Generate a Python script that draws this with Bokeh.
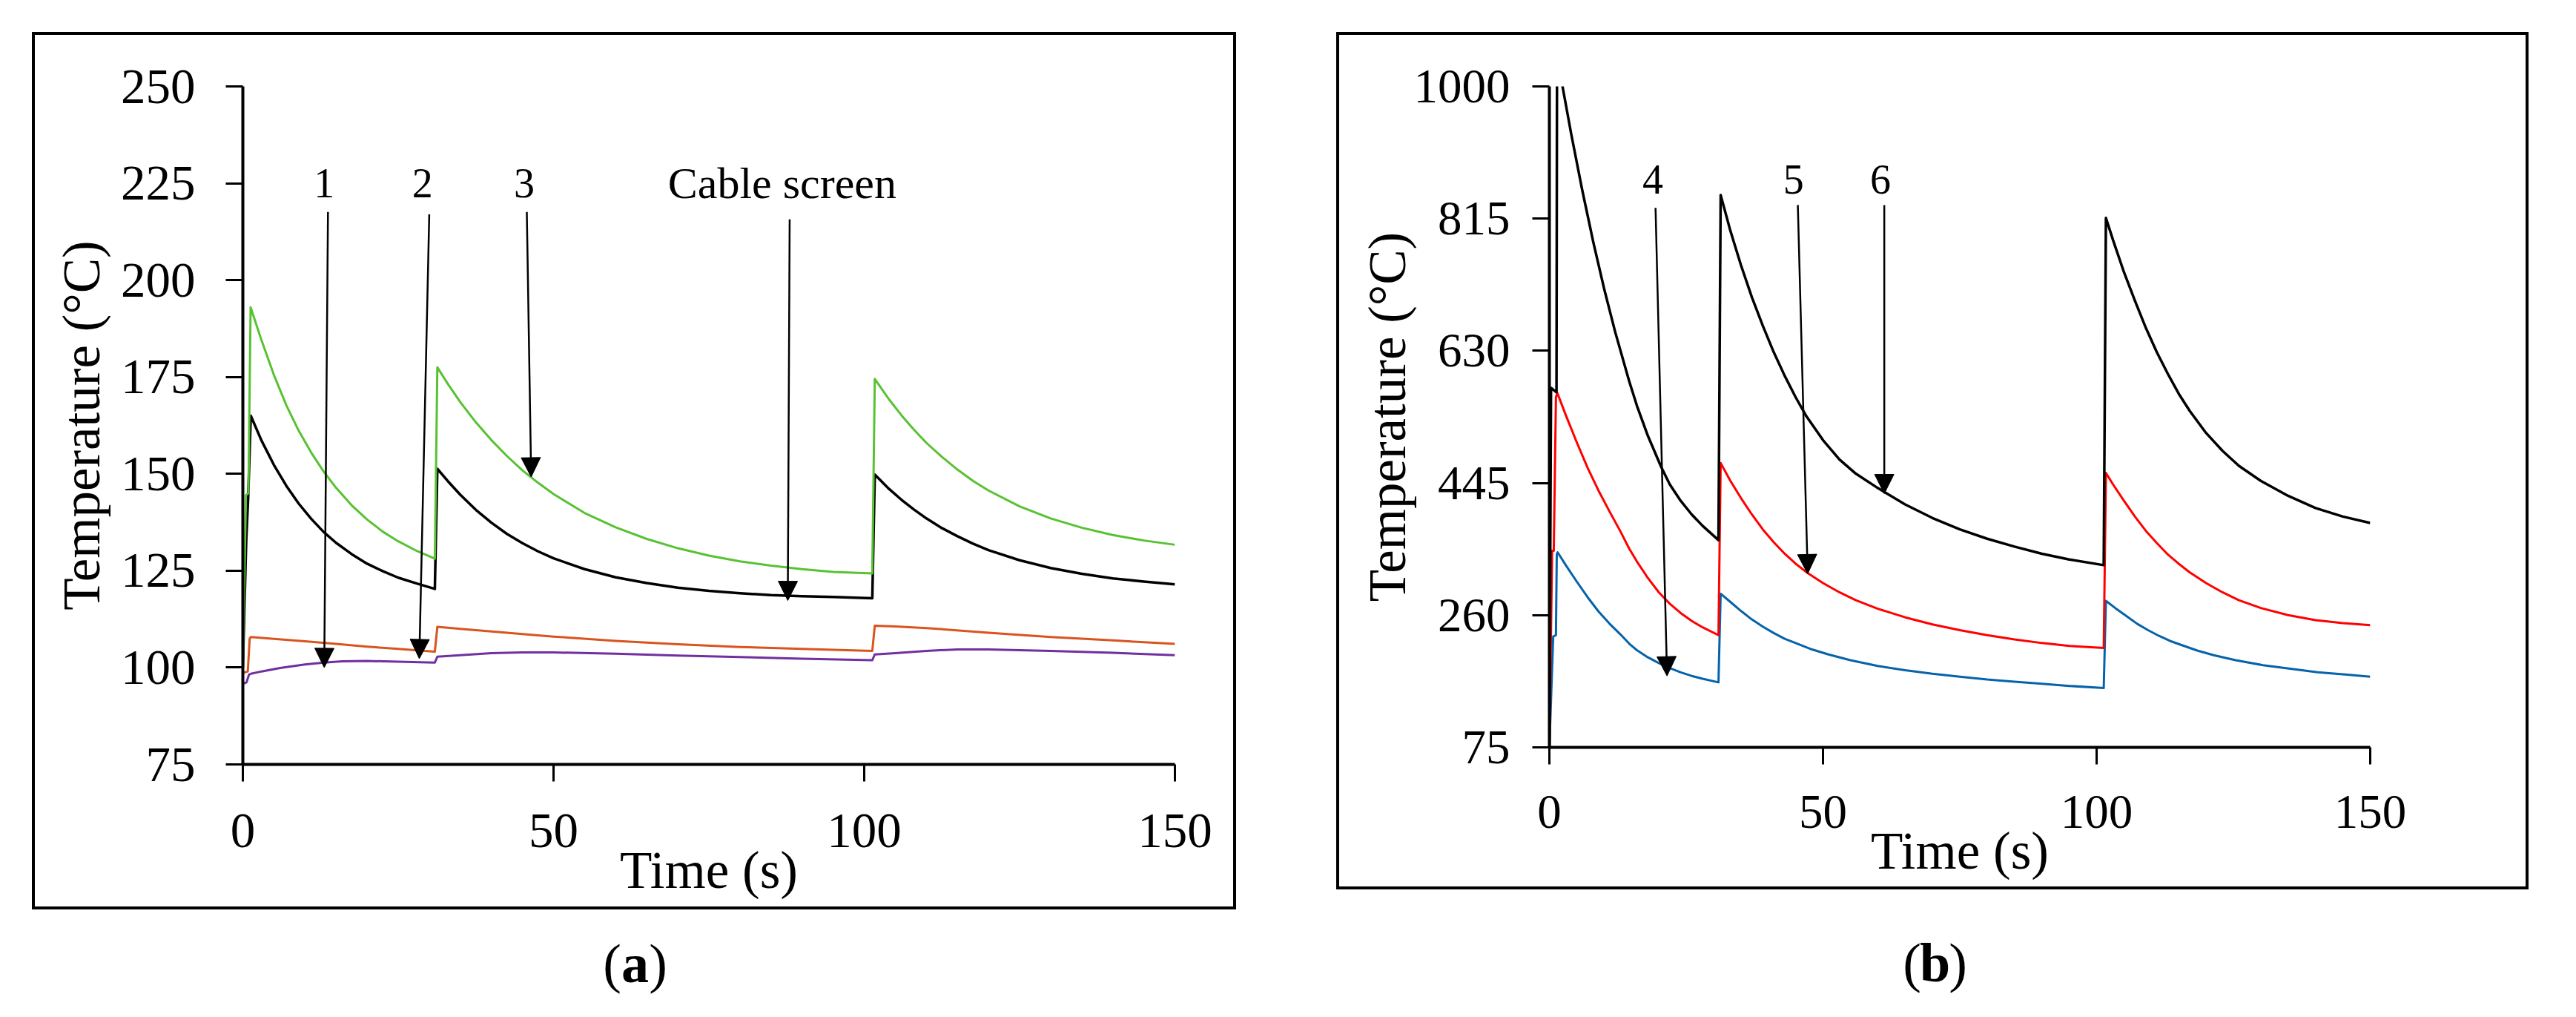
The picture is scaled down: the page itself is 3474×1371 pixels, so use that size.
from bokeh.plotting import figure
from bokeh.models import Range1d, FixedTicker, Arrow, NormalHead
from bokeh.layouts import row, column
from bokeh.embed import file_html
from bokeh.resources import INLINE
from bokeh.core.properties import value

FONT = "Liberation Serif"

# ---------------- panel (a) data ----------------
a_x_ticks = [0, 50, 100, 150]
a_y_ticks = [75, 100, 125, 150, 175, 200, 225, 250]

a_green_t = [0, 0.5, 0.9, 1.25, 3, 5, 7, 9, 11, 13, 15, 17.5, 20, 22.5, 25, 28, 30.9,
             31.3, 33, 35, 37.5, 40, 42.5, 45, 47.5, 50, 55, 60, 65, 70, 75, 80, 85, 90, 95, 101.3,
             101.7, 104, 106, 108, 110, 112.5, 115, 117.5, 120, 125, 130, 135, 140, 145, 150]
a_green_T = [100, 144.5, 145, 193, 184.5, 175.5, 167.7, 161.1, 155.5, 150.6, 146.4, 141.9, 138.2, 135.1, 132.6, 130.1, 128.1,
             177.5, 173.2, 168.5, 163.3, 158.7, 154.6, 150.9, 147.7, 144.8, 139.9, 136.2, 133.2, 130.8, 128.9, 127.4, 126.3, 125.4, 124.7, 124.3,
             174.5, 169.2, 165.1, 161.4, 158, 154.4, 151.1, 148.2, 145.7, 141.6, 138.5, 136.1, 134.2, 132.8, 131.7]

a_black_t = [0, 0.55, 0.85, 1.28, 3, 5, 7, 9, 11, 13, 15, 17.5, 20, 22.5, 25, 28, 30.9,
             31.3, 33, 35, 37.5, 40, 42.5, 45, 47.5, 50, 55, 60, 65, 70, 75, 80, 85, 90, 95, 101.3,
             101.7, 104, 106, 108, 110, 112.5, 115, 117.5, 120, 125, 130, 135, 140, 145, 150]
a_black_T = [100, 133, 143.5, 165, 158.6, 152.3, 146.9, 142.3, 138.4, 135, 132.2, 129.3, 126.8, 124.9, 123.2, 121.7, 120.3,
             151.3, 148.1, 144.6, 140.7, 137.4, 134.5, 132.1, 130, 128.2, 125.4, 123.3, 121.8, 120.6, 119.8, 119.2, 118.7, 118.4, 118.2, 117.9,
             149.8, 146.1, 143.3, 140.8, 138.5, 136, 133.9, 132, 130.3, 127.7, 125.7, 124.2, 123, 122.2, 121.5]

a_orange_t = [0, 0.8, 1.1, 1.3, 5, 10, 15, 20, 25, 30.9,
              31.3, 35, 40, 50, 60, 70, 80, 90, 101.3,
              101.7, 105, 110, 120, 130, 140, 150]
a_orange_T = [98.6, 99, 107.5, 107.9, 107.4, 106.8, 106.1, 105.4, 104.8, 104.1,
              110.5, 110, 109.3, 108, 106.9, 106, 105.3, 104.8, 104.3,
              110.8, 110.6, 110.2, 109, 107.9, 107, 106.1]

a_purple_t = [0, 0.6, 1.0, 1.3, 3, 6, 10, 13, 16, 20, 25, 30.9,
              31.3, 35, 40, 45, 50, 60, 70, 80, 90, 101.3,
              101.7, 105, 110, 115, 120, 130, 140, 150]
a_purple_T = [95.8, 96.2, 98.2, 98.4, 99, 99.9, 100.8, 101.3, 101.6, 101.7, 101.5, 101.3,
              102.8, 103.2, 103.7, 103.9, 103.9, 103.6, 103.1, 102.7, 102.3, 101.9,
              103.4, 103.7, 104.3, 104.7, 104.7, 104.3, 103.8, 103.2]

a_num_labels = ["1", "2", "3"]
a_num_x = [13.1, 28.9, 45.3]
a_num_y = [225, 225, 225]
a_screen_label = ["Cable screen"]
a_screen_x = [86.8]
a_screen_y = [225]
a_arrow_x0 = [13.7, 30.0, 45.7, 88.0]
a_arrow_y0 = [217.6, 217.0, 217.6, 215.7]
a_arrow_x1 = [13.1, 28.4, 46.4, 87.7]
a_arrow_y1 = [100.0, 102.3, 149.2, 117.3]

# ---------------- panel (b) data ----------------
b_x_ticks = [0, 50, 100, 150]
b_y_ticks = [75, 260, 445, 630, 815, 1000]

b_black_t = [0, 0.3, 1.3, 1.4, 2.0, 2.4, 4, 6, 8, 10, 12, 14.6, 16, 18, 20.4, 22, 24, 26, 28, 30.9,
             31.3, 33, 35, 37, 39, 41, 43, 45, 47, 50, 53, 56, 60, 65, 70, 75, 80, 85, 90, 95, 101.3,
             101.7, 103, 105, 107, 109, 111, 113, 115, 117, 120, 123, 126, 130, 135, 140, 145, 150]
b_black_T = [75, 578, 572, 1060, 1060, 1000, 933, 855, 783, 717, 657, 587, 553, 511, 468, 443, 420, 401, 385, 365,
             848, 800, 750, 705, 665, 628, 595, 565, 538, 505, 478, 458, 438, 415, 396, 380, 367, 356, 346, 338, 330,
             816, 785, 740, 700, 662, 628, 598, 570, 546, 515, 490, 469, 448, 427, 410, 398, 389]

b_red_t = [0, 0.5, 0.8, 1.2, 1.45, 3, 5, 7, 9, 11, 13, 14.6, 16, 18, 20, 22, 24, 26, 28, 30.9,
           31.3, 33, 35, 37, 39, 41, 43, 45, 47.2, 50, 53, 56, 60, 65, 70, 75, 80, 85, 90, 95, 101.3,
           101.7, 103, 105, 107, 109, 111, 113, 115, 117, 120, 123, 126, 130, 135, 140, 145, 150]
b_red_T = [75, 350, 350, 565, 571, 540, 502, 466, 434, 405, 377, 353, 335, 312, 292, 276, 263, 252, 243, 232,
           473, 449, 424, 401, 380, 362, 346, 332, 319, 305, 292, 281, 269, 257, 247, 239, 232, 226, 221, 217, 214,
           459, 443, 420, 398, 378, 361, 345, 332, 320, 305, 292, 281, 270, 260, 253, 249, 246]

b_blue_t = [0, 0.7, 1.2, 1.35, 1.5, 3, 5, 7, 9, 11, 13, 14.6, 16, 18, 20, 22, 24, 26, 28, 30.9,
            31.3, 33, 35, 37, 39, 41, 43, 45, 48, 51, 55, 60, 65, 70, 75, 80, 85, 90, 95, 101.3,
            101.7, 103.4, 105.4, 107.4, 109.4, 111.4, 113.4, 115.4, 118.4, 121.4, 125.4, 130.4, 135.4, 140.4, 145.4, 150]
b_blue_T = [75, 230, 232, 345, 348, 330, 307, 285, 265, 248, 233, 220, 211, 201, 193, 186, 180, 175, 171, 166,
            290, 279, 266, 254, 244, 235, 227, 221, 212, 205, 197, 189, 183, 178, 174, 170, 167, 164, 161, 158,
            280, 270, 259, 248, 239, 231, 224, 218.5, 210.5, 204, 197, 190, 185, 180, 177, 174]

b_labels = ["4", "5", "6"]
b_label_x = [18.9, 44.6, 60.5]
b_label_y = [870, 870, 870]
b_arrow_x0 = [19.4, 45.4, 61.2]
b_arrow_y0 = [830, 834, 834]
b_arrow_x1 = [21.5, 47.2, 61.2]
b_arrow_y1 = [175, 318, 430]

# ---------------- colours ----------------
GREEN = "#58C232"
ORANGE = "#D9541E"
PURPLE = "#7030A0"
BLACK = "#000000"
RED = "#FF0000"
BLUE = "#0563AB"


def make_panel(width, height, borders, xr, yr, xticks, yticks, tick_size,
               ytick_standoff, ylab_standoff, xtick_standoff, xlab_standoff):
    bl, br, bt, bb = borders
    p = figure(width=width, height=height, x_range=Range1d(*xr), y_range=Range1d(*yr),
               output_backend="svg", toolbar_location=None,
               min_border_left=bl, min_border_right=br,
               min_border_top=bt, min_border_bottom=bb)
    p.outline_line_color = None
    p.xgrid.visible = False
    p.ygrid.visible = False
    p.background_fill_color = "white"
    p.border_fill_color = "white"
    for ax in (p.xaxis[0], p.yaxis[0]):
        ax.axis_line_width = 4
        ax.axis_line_color = "black"
        ax.major_tick_line_width = 3
        ax.major_tick_line_color = "black"
        ax.major_tick_out = 23
        ax.major_tick_in = 0
        ax.minor_tick_line_color = None
        ax.major_label_text_font = FONT
        ax.major_label_text_font_size = tick_size
        ax.major_label_text_color = "black"
        ax.axis_label_text_font = FONT
        ax.axis_label_text_font_size = "71px"
        ax.axis_label_text_font_style = "normal"
        ax.axis_label_text_color = "black"
    p.xaxis.ticker = FixedTicker(ticks=xticks)
    p.yaxis.ticker = FixedTicker(ticks=yticks)
    p.xaxis.axis_label = "Time (s)"
    p.yaxis.axis_label = "Temperature (°C)"
    p.yaxis.major_label_standoff = ytick_standoff
    p.yaxis.axis_label_standoff = ylab_standoff
    p.xaxis.major_label_standoff = xtick_standoff
    p.xaxis.axis_label_standoff = xlab_standoff
    return p


def make_tag(width, height, letter, cx, cy):
    t = figure(width=width, height=height, x_range=Range1d(0, width), y_range=Range1d(height, 0),
               output_backend="svg", toolbar_location=None,
               x_axis_location=None, y_axis_location=None,
               min_border_left=0, min_border_right=0, min_border_top=0, min_border_bottom=0)
    t.outline_line_color = None
    t.xgrid.visible = False
    t.ygrid.visible = False
    for txt, style, off in [("(", "normal", -31), (letter, "bold", 0), (")", "normal", 31)]:
        t.text(x=[cx + off], y=[cy], text=[txt], text_font=value(FONT), text_font_size="74px",
               text_font_style=style, text_align="center", text_baseline="middle",
               text_color="black")
    return t


def add_arrows(p, x0s, y0s, x1s, y1s):
    for x0, y0, x1, y1 in zip(x0s, y0s, x1s, y1s):
        p.add_layout(Arrow(end=NormalHead(size=26, fill_color="black", line_color="black", line_width=1),
                           x_start=x0, y_start=y0, x_end=x1, y_end=y1,
                           line_color="black", line_width=2.5))


FRAME = {"border": "4px solid black"}

# panel (a): inner 1616 x 1175
pa = make_panel(1616, 1175, (280, 79, 69, 192), (0, 150), (75, 250), a_x_ticks, a_y_ticks,
                "67px", 41, 11, 44, -11)
for tt, TT, col, lw in [(a_orange_t, a_orange_T, ORANGE, 3), (a_purple_t, a_purple_T, PURPLE, 3),
                        (a_black_t, a_black_T, BLACK, 3.5), (a_green_t, a_green_T, GREEN, 3)]:
    pa.line(tt, TT, line_color=col, line_width=lw, line_join="round")
pa.text(x=a_num_x, y=a_num_y, text=a_num_labels, text_font=value(FONT), text_font_size="56px",
        text_align="center", text_baseline="middle", text_color="black")
pa.text(x=a_screen_x, y=a_screen_y, text=a_screen_label, text_font=value(FONT), text_font_size="60px",
        text_align="center", text_baseline="middle", text_color="black")
add_arrows(pa, a_arrow_x0, a_arrow_y0, a_arrow_x1, a_arrow_y1)

# panel (b): inner 1600 x 1148
pb = make_panel(1600, 1148, (283, 210, 69, 188), (0, 150), (75, 1000), b_x_ticks, b_y_ticks,
                "65px", 30, -6, 42, -11)
for tt, TT, col, lw in [(b_blue_t, b_blue_T, BLUE, 3), (b_red_t, b_red_T, RED, 3),
                        (b_black_t, b_black_T, BLACK, 3.5)]:
    pb.line(tt, TT, line_color=col, line_width=lw, line_join="round")
pb.text(x=b_label_x, y=b_label_y, text=b_labels, text_font=value(FONT), text_font_size="56px",
        text_align="center", text_baseline="middle", text_color="black")
add_arrows(pb, b_arrow_x0, b_arrow_y0, b_arrow_x1, b_arrow_y1)

box_a = column(pa, styles=FRAME, margin=(43, 0, 0, 43))
tag_a = make_tag(1624, 126, "a", 813, 72)
tag_a.margin = (0, 0, 0, 43)
col_a = column(box_a, tag_a)

box_b = column(pb, styles=FRAME, margin=(43, 0, 0, 135))
tag_b = make_tag(1608, 153, "b", 807, 98)
tag_b.margin = (0, 0, 0, 135)
col_b = column(box_b, tag_b)

layout = row(col_a, col_b)
open("out.html", "w").write(file_html(layout, INLINE))
